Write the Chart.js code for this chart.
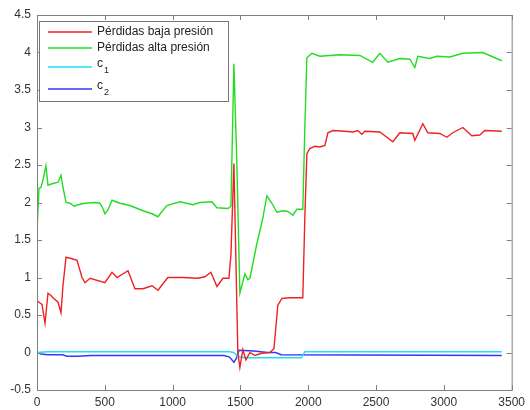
<!DOCTYPE html>
<html>
<head>
<meta charset="utf-8">
<script src="https://cdn.jsdelivr.net/npm/chart.js@4.4.1/dist/chart.umd.min.js"></script>
<style>
  html, body { margin: 0; padding: 0; background: #fff; }
  #wrap { width: 530px; height: 410px; }
</style>
</head>
<body>
<div id="wrap"><canvas id="chart"></canvas></div>
<script>
// tick labels
const xTicks = [0, 500, 1000, 1500, 2000, 2500, 3000, 3500];
const yTicks = [-0.5, 0, 0.5, 1, 1.5, 2, 2.5, 3, 3.5, 4, 4.5];

// series names
const seriesNames = ['Pérdidas baja presión', 'Pérdidas alta presión', 'c1', 'c2'];

// Pérdidas baja presión (x, y)
const bajaX = [0, 22, 37, 59, 81, 103, 118, 155, 177, 192, 214, 258, 295, 332, 354, 391, 501, 553, 590, 671, 722, 781, 848, 892, 965, 1076, 1187, 1238, 1282, 1327, 1371, 1415, 1430, 1452, 1467, 1481, 1496, 1518, 1540, 1570, 1607, 1658, 1717, 1747, 1776, 1806, 1865, 1960, 1975, 1990, 2012, 2049, 2086, 2123, 2145, 2182, 2270, 2329, 2366, 2395, 2418, 2528, 2624, 2675, 2771, 2786, 2845, 2882, 2970, 3022, 3066, 3140, 3206, 3265, 3302, 3427];
const bajaY = [0.69, 0.66, 0.64, 0.39, 0.79, 0.76, 0.73, 0.67, 0.53, 0.9, 1.27, 1.25, 1.23, 1.0, 0.93, 0.99, 0.93, 1.07, 1.0, 1.09, 0.85, 0.85, 0.89, 0.83, 1.0, 1.0, 0.99, 1.01, 1.07, 0.88, 0.99, 0.99, 1.3, 2.52, 1.2, 0.0, -0.2, 0.04, -0.1, 0.0, -0.04, -0.01, 0.0, 0.05, 0.63, 0.72, 0.73, 0.73, 1.8, 2.65, 2.72, 2.75, 2.74, 2.76, 2.93, 2.96, 2.95, 2.94, 2.96, 2.91, 2.95, 2.94, 2.81, 2.93, 2.92, 2.83, 3.05, 2.93, 2.92, 2.87, 2.93, 3.0, 2.89, 2.9, 2.96, 2.95];

// Pérdidas alta presión (x, y)
const altaX = [0, 15, 29, 44, 66, 81, 111, 155, 177, 192, 214, 243, 273, 302, 354, 427, 464, 486, 501, 523, 553, 612, 685, 781, 848, 892, 921, 958, 1054, 1150, 1201, 1290, 1327, 1408, 1430, 1452, 1474, 1496, 1533, 1555, 1570, 1621, 1666, 1695, 1732, 1769, 1813, 1850, 1887, 1916, 1960, 1975, 1990, 2027, 2086, 2233, 2381, 2476, 2528, 2587, 2675, 2749, 2786, 2808, 2896, 2948, 3044, 3140, 3287, 3427];
const altaY = [1.63, 2.19, 2.2, 2.3, 2.49, 2.23, 2.25, 2.27, 2.36, 2.2, 2.0, 1.99, 1.95, 1.97, 1.99, 2.0, 1.99, 1.92, 1.85, 1.9, 2.03, 1.99, 1.96, 1.89, 1.85, 1.81, 1.88, 1.96, 2.01, 1.97, 2.0, 2.01, 1.93, 1.92, 1.95, 3.85, 2.5, 0.79, 1.05, 0.97, 0.99, 1.45, 1.8, 2.09, 1.99, 1.87, 1.89, 1.88, 1.83, 1.91, 1.91, 3.0, 3.93, 3.99, 3.95, 3.97, 3.96, 3.87, 3.99, 3.87, 3.92, 3.91, 3.8, 3.95, 3.92, 3.95, 3.94, 3.99, 4.0, 3.89];

// c1
const c1X = [0, 80, 1420, 1450, 1480, 1530, 1950, 1975, 3427];
const c1Y = [0.0, 0.01, 0.01, 0.0, -0.05, -0.07, -0.07, 0.01, 0.01];

// c2
const c2X = [0, 30, 80, 190, 220, 300, 400, 1380, 1420, 1452, 1470, 1490, 1600, 1700, 1760, 1800, 3427];
const c2Y = [0.0, -0.02, -0.03, -0.03, -0.05, -0.05, -0.04, -0.04, -0.06, -0.13, -0.08, 0.03, 0.02, 0.0, 0.0, -0.03, -0.04];

const colors = ['#ee2222', '#22dd22', '#20e0f0', '#3535ff'];

const toPoints = (xs, ys) => xs.map((x, i) => ({ x: x, y: ys[i] }));

// MATLAB style box with inward ticks + legend
const matlabBox = {
  id: 'matlabBox',
  afterDraw(chart) {
    const { ctx, chartArea: a, scales } = chart;
    ctx.save();
    ctx.strokeStyle = '#808080';
    ctx.lineWidth = 1;
    ctx.strokeRect(a.left + 0.5, a.top + 0.5, a.right - a.left, a.bottom - a.top);
    ctx.beginPath();
    xTicks.forEach(v => {
      const px = Math.round(scales.x.getPixelForValue(v)) + 0.5;
      ctx.moveTo(px, a.bottom); ctx.lineTo(px, a.bottom - 5);
      ctx.moveTo(px, a.top); ctx.lineTo(px, a.top + 5);
    });
    yTicks.forEach(v => {
      const py = Math.round(scales.y.getPixelForValue(v)) + 0.5;
      ctx.moveTo(a.left, py); ctx.lineTo(a.left + 5, py);
      ctx.moveTo(a.right, py); ctx.lineTo(a.right - 5, py);
    });
    ctx.stroke();

    // legend
    const lx = 39.5, ly = 21.5, lw = 189, lh = 80;
    ctx.fillStyle = '#fff';
    ctx.fillRect(lx, ly, lw, lh);
    ctx.strokeStyle = '#777';
    ctx.strokeRect(lx, ly, lw, lh);
    const rows = [32, 48, 67, 89];
    ctx.textBaseline = 'middle';
    ctx.lineWidth = 1.5;
    rows.forEach((ry, i) => {
      ctx.strokeStyle = colors[i];
      ctx.beginPath();
      ctx.moveTo(48, ry); ctx.lineTo(92, ry);
      ctx.stroke();
      ctx.fillStyle = '#222';
      const name = seriesNames[i];
      if (i < 2) {
        ctx.font = '12px "Liberation Sans", Arial, sans-serif';
        ctx.fillText(name, 97, ry);
      } else {
        ctx.font = '12px "Liberation Sans", Arial, sans-serif';
        ctx.fillText(name[0], 97, ry - 3);
        ctx.font = '9px "Liberation Sans", Arial, sans-serif';
        ctx.fillText(name.slice(1), 104, ry + 4);
      }
    });
    ctx.restore();
  }
};

new Chart(document.getElementById('chart'), {
  type: 'line',
  data: {
    datasets: [
      { label: seriesNames[0], data: toPoints(bajaX, bajaY), borderColor: colors[0] },
      { label: seriesNames[1], data: toPoints(altaX, altaY), borderColor: colors[1] },
      { label: seriesNames[2], data: toPoints(c1X, c1Y), borderColor: colors[2] },
      { label: seriesNames[3], data: toPoints(c2X, c2Y), borderColor: colors[3] }
    ].map(d => Object.assign(d, { borderWidth: 1.4, pointRadius: 0, tension: 0, fill: false }))
  },
  options: {
    responsive: true,
    maintainAspectRatio: false,
    animation: false,
    layout: { padding: { left: 0, right: 18, top: 15, bottom: 0 } },
    plugins: { legend: { display: false }, tooltip: { enabled: false } },
    scales: {
      x: {
        type: 'linear', min: 0, max: 3500,
        afterBuildTicks: s => { s.ticks = xTicks.map(v => ({ value: v })); },
        afterFit: s => { s.height = 20; },
        grid: { display: false, drawTicks: false },
        border: { display: false },
        ticks: { padding: 5, color: '#333', font: { family: '"Liberation Sans", Arial, sans-serif', size: 12 }, callback: v => String(v), maxRotation: 0 }
      },
      y: {
        type: 'linear', min: -0.5, max: 4.5,
        afterBuildTicks: s => { s.ticks = yTicks.map(v => ({ value: v })); },
        afterFit: s => { s.width = 37; },
        grid: { display: false, drawTicks: false },
        border: { display: false },
        ticks: { padding: 6, color: '#333', font: { family: '"Liberation Sans", Arial, sans-serif', size: 12 }, callback: v => String(v) }
      }
    }
  },
  plugins: [matlabBox]
});
</script>
</body>
</html>
